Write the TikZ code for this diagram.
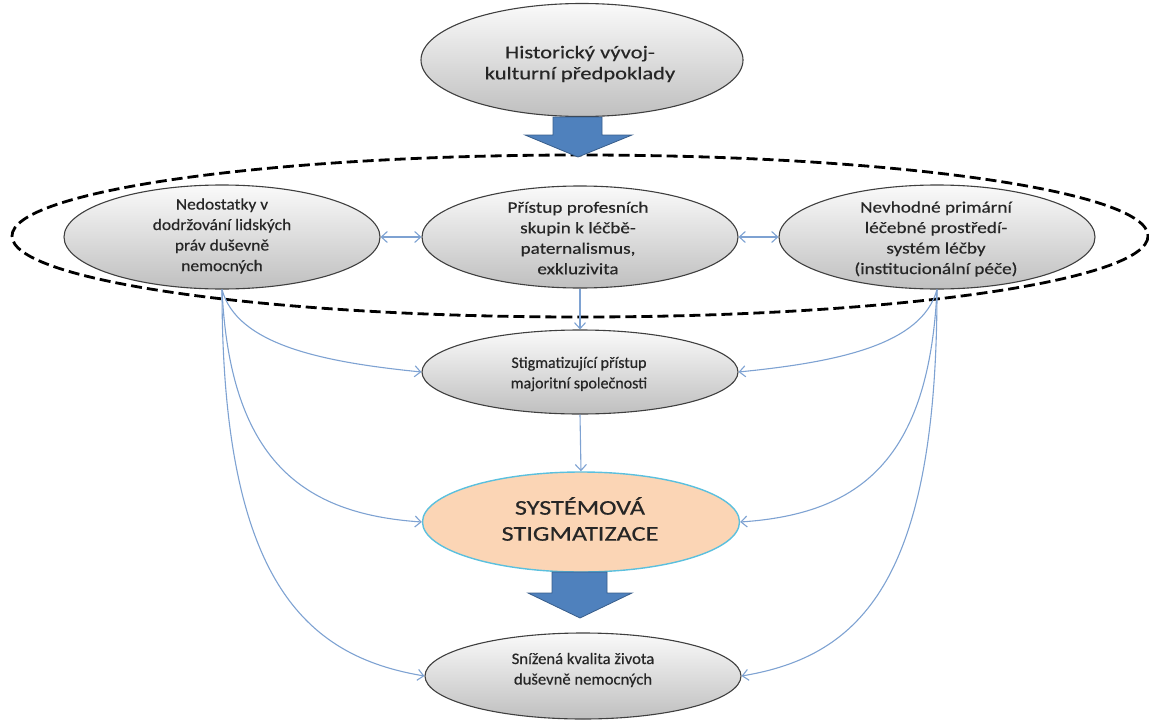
\documentclass[tikz,border=0pt]{standalone}
\usepackage{fontspec}
\setmainfont{Carlito}[FakeBold=0.4]
\usetikzlibrary{shapes.geometric,arrows.meta}
\definecolor{conn}{HTML}{7EA2D2}
\definecolor{blockfill}{HTML}{4F81BD}
\definecolor{blockdraw}{HTML}{385D8A}
\definecolor{peach}{HTML}{FBD5B5}
\definecolor{peachline}{HTML}{5BC0DE}
\definecolor{ellline}{HTML}{3F3F3F}
\definecolor{txtc}{HTML}{262626}
\begin{document}
\begin{tikzpicture}[x=1pt,y=-1pt,
  ell/.style={ellipse, draw=ellline, line width=1.1pt, inner sep=0pt,
    top color=white!96!gray, bottom color=gray!50, shading angle=0},
  orange/.style={ellipse, draw=peachline, line width=1.4pt, inner sep=0pt, fill=peach},
  txt/.style={align=center, text=txtc, inner sep=0pt,
    font=\fontsize{16}{20.5}\selectfont},
  bigtxt/.style={align=center, text=txtc, inner sep=0pt,
    font=\fontsize{18}{21}\selectfont},
  hugetxt/.style={align=center, text=txtc, inner sep=0pt,
    font=\fontsize{21}{26}\selectfont},
  conn/.style={draw=conn, line width=1.1pt,
    -{Straight Barb[length=6pt,width=11pt,line width=1.1pt]}},
  dconn/.style={draw=conn, line width=1.1pt,
    {Straight Barb[length=6pt,width=11pt,line width=1.1pt]}-{Straight Barb[length=6pt,width=11pt,line width=1.1pt]}},
  group/.style={draw=black, line width=2.8pt, dash pattern=on 11pt off 5pt},
  block/.style={fill=blockfill, draw=blockdraw, line width=0.8pt, line join=miter}
]
\useasboundingbox (0,0) rectangle (1149,720);

% dashed grouping ellipse
\draw[group] (580,236) ellipse [x radius=568, y radius=81];

% nodes
\node[ell, minimum width=322, minimum height=113] (H) at (582,60) {};
\node[bigtxt, xscale=1.25] (Ht) at (580,64) {Historický vývoj-\\kulturní předpoklady};

\node[ell, minimum width=316, minimum height=104] (L) at (222,237) {};
\node[txt, xscale=1.09] (Lt) at (222,236) {Nedostatky v\\dodržování lidských\\práv duševně\\nemocných};

\node[ell, minimum width=316, minimum height=102] (M) at (580,237) {};
\node[txt, xscale=1.2] (Mt) at (578,238) {Přístup profesních\\skupin k léčbě-\\paternalismus,\\exkluzivita};

\node[ell, minimum width=316, minimum height=104] (R) at (937,237) {};
\node[txt, xscale=1.2] (Rt) at (936,239) {Nevhodné primární\\léčebné prostředí-\\systém léčby\\(institucionální péče)};

\node[ell, minimum width=316, minimum height=84] (S) at (580,372) {};
\node[txt] (St) at (579,374) {Stigmatizující přístup\\majoritní společnosti};

\node[orange, minimum width=317, minimum height=100] (O) at (581,522) {};
\node[hugetxt, xscale=1.25] (Ot) at (580,519) {SYSTÉMOVÁ\\STIGMATIZACE};

\node[ell, minimum width=316, minimum height=86] (B) at (583,676) {};
\node[txt, xscale=1.04] (Bt) at (583,670) {Snížená kvalita života\\duševně nemocných};

% block arrows
\draw[block] (553,117) -- (602,117) -- (602,135) -- (632,135) -- (578,157)
  -- (525,135) -- (553,135) -- cycle;
\draw[block] (552,572) -- (607,572) -- (607,593) -- (632,593) -- (580,618)
  -- (528,593) -- (552,593) -- cycle;

% double arrows between the three causes
\draw[dconn] (L.east) -- (M.west);
\draw[dconn] (M.east) -- (R.west);

% straight arrows
\draw[conn] (M.south) -- (S.north);
\draw[conn] (S.south) -- (O.north);

% curved arrows from the left
\draw[conn] (L.south) .. controls +(15,55) and +(-100,-10) .. (S.west);
\draw[conn] (L.south) .. controls +(8,170) and +(-120,-8) .. (O.west);
\draw[conn] (L.south) .. controls +(0,290) and +(-120,-20) .. (B.west);

% curved arrows from the right
\draw[conn] (R.south) .. controls +(-15,55) and +(100,-10) .. (S.east);
\draw[conn] (R.south) .. controls +(-8,170) and +(120,-8) .. (O.east);
\draw[conn] (R.south) .. controls +(0,290) and +(120,-20) .. (B.east);
\end{tikzpicture}
\end{document}
